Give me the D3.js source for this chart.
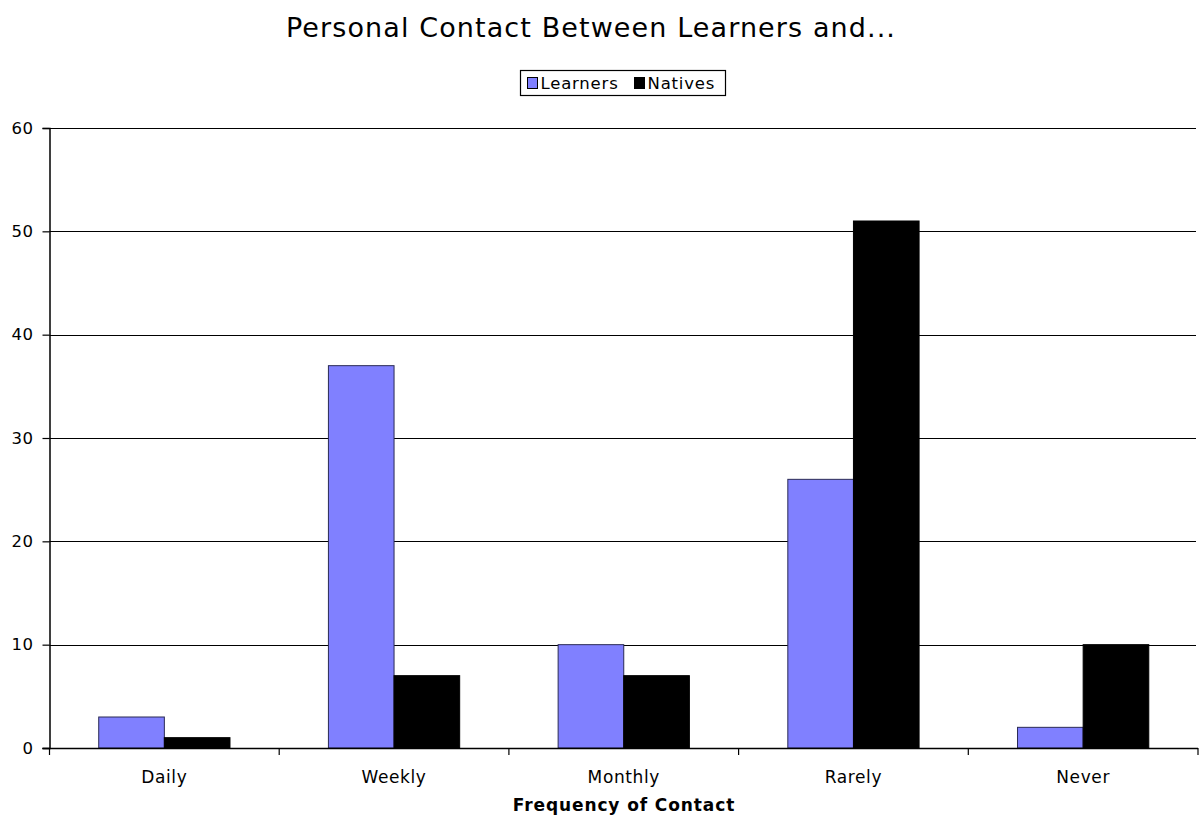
<!DOCTYPE html>
<html>
<head>
<meta charset="utf-8">
<script src="https://cdn.jsdelivr.net/npm/d3@7"></script>
<style>
  html, body { margin: 0; padding: 0; background: #fff; }
  svg { display: block; }
  text { font-family: Tahoma, "DejaVu Sans", Verdana, sans-serif; fill: #000; }
</style>
</head>
<body>
<svg id="chart" width="1199" height="817"></svg>
<script>
// Chart data
const categories = ["Daily", "Weekly", "Monthly", "Rarely", "Never"];
const seriesNames = ["Learners", "Natives"];
const learners = [3, 37, 10, 26, 2];
const natives = [1, 7, 7, 51, 10];
const yTicks = [0, 10, 20, 30, 40, 50, 60];
const seriesColors = ["#8080FF", "#000000"];

const svg = d3.select("#chart");
const plot = { left: 49.5, right: 1198, top: 128, bottom: 748 };

const x = d3.scaleBand().domain(categories).range([plot.left, plot.right]);
// Each bar takes 1 part, the gap between groups 1.5 parts
const inner = d3.scaleBand().domain(seriesNames)
  .range([0, x.bandwidth()]).paddingInner(0).paddingOuter(0.75);
const y = d3.scaleLinear().domain([0, 60]).range([plot.bottom, plot.top]);

// Title
svg.append("text")
  .attr("x", 591).attr("y", 37)
  .attr("text-anchor", "middle")
  .style("font-size", "27px")
  .style("letter-spacing", "1.1px")
  .text("Personal Contact Between Learners and...");

// Horizontal gridlines
svg.append("g").selectAll("line")
  .data(yTicks.filter(d => d > 0))
  .join("line")
  .attr("x1", plot.left).attr("x2", 1196)
  .attr("y1", d => Math.round(y(d)) + 0.5).attr("y2", d => Math.round(y(d)) + 0.5)
  .attr("stroke", "#000").attr("stroke-width", 1.2);

// Bars
const rows = categories.map((c, i) => ({ cat: c, vals: [learners[i], natives[i]] }));
const groups = svg.append("g").selectAll("g")
  .data(rows).join("g")
  .attr("transform", d => `translate(${x(d.cat)},0)`);
groups.selectAll("rect")
  .data(d => d.vals.map((v, j) => ({ series: seriesNames[j], v, j })))
  .join("rect")
  .attr("x", d => inner(d.series))
  .attr("width", inner.bandwidth())
  .attr("y", d => y(d.v))
  .attr("height", d => y(0) - y(d.v))
  .attr("fill", d => seriesColors[d.j])
  .attr("stroke", d => d.j === 0 ? "#2a2a55" : "#000")
  .attr("stroke-width", 1);

// Y axis
const yAxis = d3.axisLeft(y).tickValues(yTicks).tickSize(7).tickPadding(9);
const gy = svg.append("g")
  .attr("transform", `translate(${plot.left},0)`)
  .call(yAxis);
gy.select(".domain").attr("stroke", "#000").attr("stroke-width", 1.5);
gy.selectAll(".tick line").attr("stroke", "#000").attr("stroke-width", 1.2);
gy.selectAll(".tick text")
  .style("font-size", "16.5px")
  .style("letter-spacing", "0.5px")
  .style("font-family", 'Tahoma, "DejaVu Sans", Verdana, sans-serif')
  .attr("fill", "#000");

// X axis: baseline, boundary ticks, centred category labels
const gx = svg.append("g");
gx.append("line")
  .attr("x1", plot.left - 7).attr("x2", plot.right)
  .attr("y1", plot.bottom + 0.5).attr("y2", plot.bottom + 0.5)
  .attr("stroke", "#000").attr("stroke-width", 1.5);
const bounds = categories.map(c => x(c)).concat([plot.right]);
gx.selectAll("line.tk").data(bounds).join("line")
  .attr("class", "tk")
  .attr("x1", d => d).attr("x2", d => d)
  .attr("y1", plot.bottom).attr("y2", plot.bottom + 7)
  .attr("stroke", "#000").attr("stroke-width", 1.2);
gx.selectAll("text").data(categories).join("text")
  .attr("x", d => x(d) + x.bandwidth() / 2)
  .attr("y", 783)
  .attr("text-anchor", "middle")
  .style("font-size", "17px")
  .style("letter-spacing", "0.6px")
  .text(d => d);

// X axis title
svg.append("text")
  .attr("x", 624).attr("y", 811)
  .attr("text-anchor", "middle")
  .style("font-size", "17px")
  .style("letter-spacing", "0.9px")
  .style("font-weight", "bold")
  .text("Frequency of Contact");

// Legend
const leg = svg.append("g").attr("transform", "translate(520.5,70.5)");
leg.append("rect").attr("width", 205).attr("height", 25)
  .attr("fill", "#fff").attr("stroke", "#000").attr("stroke-width", 1.2);
const items = [{ name: "Learners", x: 7 }, { name: "Natives", x: 114 }];
items.forEach((it, i) => {
  leg.append("rect")
    .attr("x", it.x).attr("y", 7).attr("width", 10).attr("height", 11)
    .attr("fill", seriesColors[i]).attr("stroke", "#000").attr("stroke-width", 1);
  leg.append("text")
    .attr("x", it.x + 13).attr("y", 18.5)
    .style("font-size", "16.5px")
    .style("letter-spacing", "0.8px")
    .text(it.name);
});
</script>
</body>
</html>
